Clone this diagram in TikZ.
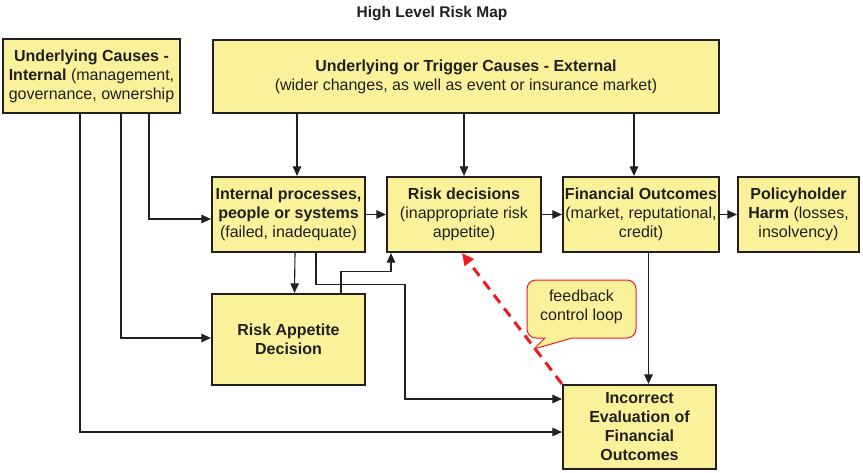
\documentclass[tikz,border=0pt]{standalone}
\usepackage{fontspec}
\setmainfont{Liberation Sans}
\usetikzlibrary{arrows.meta}
\definecolor{boxfill}{RGB}{250,242,154}
\definecolor{inkc}{RGB}{35,31,32}
\definecolor{loopred}{RGB}{237,28,36}
\begin{document}
\begin{tikzpicture}[x=1pt,y=-1pt,
    riskbox/.style={draw=inkc,fill=boxfill,line width=2.2pt,align=center,inner sep=0pt,
        text=inkc,font=\fontsize{16}{19}\selectfont},
    arr/.style={draw=inkc,line width=1.1pt,-{Triangle[length=9.5pt,width=8.5pt]}},
    loopline/.style={draw=loopred,line width=3pt,dash pattern=on 10pt off 7pt,
        -{Triangle[length=12pt,width=11pt]}}]
        \useasboundingbox (0,0) rectangle (863,472);
        \node[font=\bfseries\fontsize{15.5}{18}\selectfont,text=inkc] (title) at (432,14) {High Level Risk Map};

        \node[riskbox,minimum width=177pt,minimum height=74pt] (intc) at (91.5,76)
            {\textbf{Underlying Causes -}\\\textbf{Internal} (management,\\governance, ownership};
        \node[riskbox,minimum width=506pt,minimum height=73pt] (extc) at (466,76.5)
            {\textbf{Underlying or Trigger Causes - External}\\(wider changes, as well as event or insurance market)};
        \node[riskbox,minimum width=153pt,minimum height=75pt] (proc) at (288.5,214.5)
            {\textbf{Internal processes,}\\\textbf{people or systems}\\(failed, inadequate)};
        \node[riskbox,minimum width=154pt,minimum height=75pt] (dec)  at (464,214.5)
            {\textbf{Risk decisions}\\(inappropriate risk\\appetite)};
        \node[riskbox,minimum width=156pt,minimum height=75pt] (fin)  at (641,214.5)
            {\textbf{Financial Outcomes}\\(market, reputational,\\credit)};
        \node[riskbox,minimum width=121pt,minimum height=75pt] (harm) at (798.5,214.5)
            {\textbf{Policyholder}\\\textbf{Harm} (losses,\\insolvency)};
        \node[riskbox,minimum width=153pt,minimum height=91pt] (app)  at (288.5,339.5)
            {\textbf{Risk Appetite}\\\textbf{Decision}};
        \node[riskbox,minimum width=153pt,minimum height=84pt] (eval) at (639.5,427)
            {\textbf{Incorrect}\\\textbf{Evaluation of}\\\textbf{Financial}\\\textbf{Outcomes}};

        \draw[arr] ([xshift=-11.5pt]intc.south) |- ([yshift=-5pt]eval.west);
        \draw[arr] ([xshift=29.5pt]intc.south) |- ([yshift=1.5pt]app.west);
        \draw[arr] ([xshift=57.5pt]intc.south) |- ([yshift=-4.5pt]proc.west);
        \draw[arr] ([xshift=8.5pt]proc.north |- extc.south) -- ([xshift=8.5pt]proc.north);
        \draw[arr] (dec.north |- extc.south) -- (dec.north);
        \draw[arr] ([xshift=-7pt]fin.north |- extc.south) -- ([xshift=-7pt]fin.north);
        \draw[arr] (proc.east) -- (dec.west);
        \draw[arr] (dec.east) -- (fin.west);
        \draw[arr] (fin.east) -- (harm.west);
        \draw[arr] ([xshift=6.5pt]proc.south) -- ([xshift=6pt]app.north);
        \draw[arr] ([xshift=27.5pt]proc.south) -- ++(0,31) -- ++(89,0) |- ([yshift=28pt]eval.west);
        \draw[arr] ([xshift=52.5pt]app.north) -- ++(0,-21) -| ([xshift=-73pt]dec.south);
        \draw[arr] ([xshift=7.5pt]fin.south) -- ([xshift=7.5pt]fin.south |- eval.north);
        \draw[loopline] (eval.north west) -- ([xshift=-2pt]dec.south);

        \draw[draw=loopred,fill=boxfill,line width=1pt] (572,338) [rounded corners=9pt] -- (636,338)
            -- (636,280) -- (527,280) -- (527,338) [sharp corners] -- (545,338) -- (534,349) -- cycle;
        \node[text=inkc,align=center,font=\fontsize{16}{19}\selectfont] (loop) at (581.5,307)
            {feedback\\control loop};
    \end{tikzpicture}
\end{document}
